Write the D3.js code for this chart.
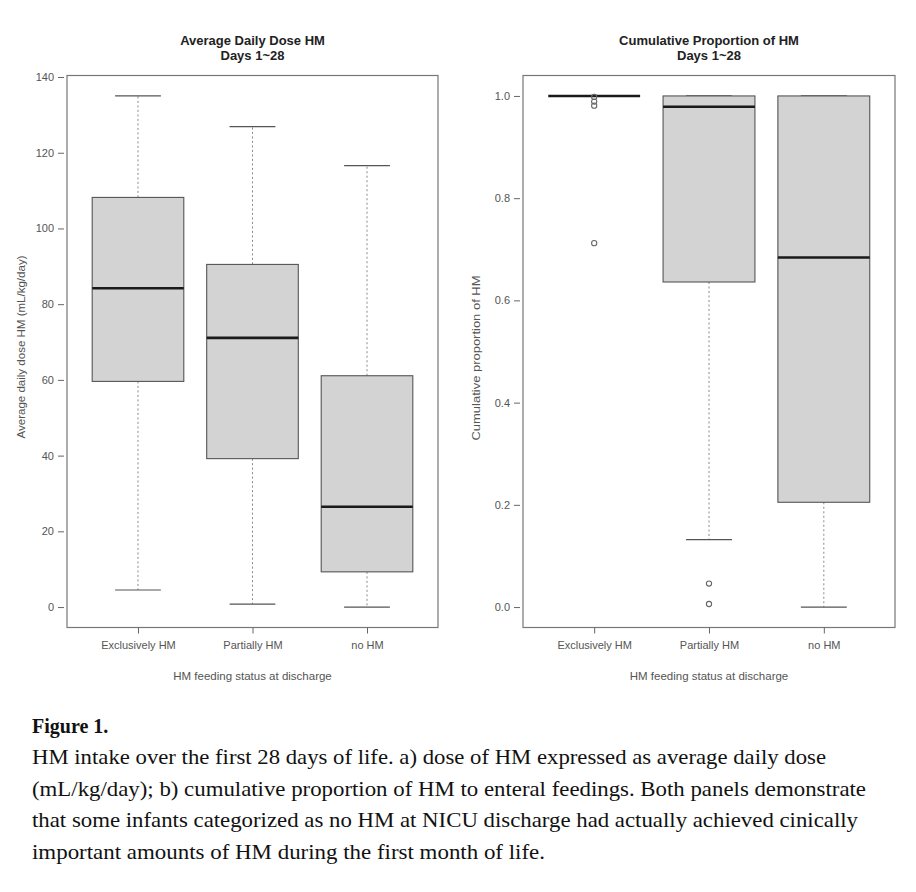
<!DOCTYPE html>
<html><head><meta charset="utf-8">
<script src="https://cdn.jsdelivr.net/npm/d3@7"></script>
<style>body{margin:0;background:#fff}</style>
</head><body><svg id="c" width="916" height="892"></svg>
<script>
const categories = ["Exclusively HM", "Partially HM", "no HM"];
// five-number summaries: [lower whisker, Q1, median, Q3, upper whisker]
const doseStats = [[4.5, 59.6, 84.2, 108.2, 135], [0.8, 39.2, 71.1, 90.5, 126.9], [0, 9.3, 26.5, 61.1, 116.6]];
const doseOutliers = [[], [], []];
const propStats = [[1, 1, 1, 1, 1], [0.132, 0.636, 0.979, 1, 1], [0, 0.205, 0.684, 1, 1]];
const propOutliers = [[0.998, 0.989, 0.981, 0.712], [0.046, 0.006], []];
const doseTicks = [0, 20, 40, 60, 80, 100, 120, 140];
const propTicks = [0, 0.2, 0.4, 0.6, 0.8, 1.0];
const captionTitle = "Figure 1.";
const captionLines = [
  "HM intake over the first 28 days of life. a) dose of HM expressed as average daily dose",
  "(mL/kg/day); b) cumulative proportion of HM to enteral feedings. Both panels demonstrate",
  "that some infants categorized as no HM at NICU discharge had actually achieved cinically",
  "important amounts of HM during the first month of life."
];

const svg = d3.select("#c");
const SANS = "Liberation Sans, Arial, Helvetica, sans-serif";

function panel(o) {
  const g = svg.append("g");
  const x = d3.scaleLinear().domain([0.38, 3.62]).range([o.x0, o.x1]);
  const y = d3.scaleLinear().domain(o.domain).range([o.y1, o.y0]);
  const unit = x(2) - x(1);
  const bw = 0.8 * unit, cw = 0.4 * unit;

  o.stats.forEach((s, i) => {
    const cx = x(i + 1);
    const [lo, q1, med, q3, hi] = s;
    g.append("line").attr("x1", cx).attr("x2", cx).attr("y1", y(q3)).attr("y2", y(hi))
      .attr("stroke", "#888").attr("stroke-dasharray", "2,2.5");
    g.append("line").attr("x1", cx).attr("x2", cx).attr("y1", y(q1)).attr("y2", y(lo))
      .attr("stroke", "#888").attr("stroke-dasharray", "2,2.5");
    [lo, hi].forEach(v => g.append("line").attr("x1", cx - cw / 2).attr("x2", cx + cw / 2)
      .attr("y1", y(v)).attr("y2", y(v)).attr("stroke", "#555").attr("stroke-width", 1.2));
    g.append("rect").attr("x", cx - bw / 2).attr("width", bw)
      .attr("y", y(q3)).attr("height", Math.max(0, y(q1) - y(q3)))
      .attr("fill", "#d3d3d3").attr("stroke", "#555").attr("stroke-width", 1.1);
    g.append("line").attr("x1", cx - bw / 2).attr("x2", cx + bw / 2)
      .attr("y1", y(med)).attr("y2", y(med)).attr("stroke", "#1a1a1a").attr("stroke-width", 2.6);
    o.outliers[i].forEach(v => g.append("circle").attr("cx", cx).attr("cy", y(v)).attr("r", 2.6)
      .attr("fill", "none").attr("stroke", "#666").attr("stroke-width", 1.1));
  });

  g.append("rect").attr("x", o.x0).attr("y", o.y0).attr("width", o.x1 - o.x0).attr("height", o.y1 - o.y0)
    .attr("fill", "none").attr("stroke", "#777").attr("stroke-width", 1.2);

  const ya = g.append("g").attr("transform", `translate(${o.x0 - 3},0)`)
    .call(d3.axisLeft(y).tickValues(o.ticks).tickFormat(o.fmt).tickSize(6).tickPadding(4));
  ya.select(".domain").remove();
  ya.selectAll("line").attr("stroke", "#666");
  ya.selectAll("text").attr("font-family", SANS).attr("font-size", 11).attr("fill", "#555");

  const xa = g.append("g").attr("transform", `translate(0,${o.y1})`)
    .call(d3.axisBottom(x).tickValues([1, 2, 3]).tickFormat(d => categories[d - 1]).tickSize(6).tickPadding(8));
  xa.select(".domain").remove();
  xa.selectAll("line").attr("stroke", "#666");
  xa.selectAll("text").attr("font-family", SANS).attr("font-size", 11).attr("fill", "#555");

  const mid = (o.x0 + o.x1) / 2;
  o.title.forEach((t, k) => g.append("text").attr("x", mid).attr("y", 44.5 + k * 15.5)
    .attr("text-anchor", "middle").attr("font-family", SANS).attr("font-weight", "bold")
    .attr("font-size", 13).attr("fill", "#222").text(t));
  g.append("text").attr("x", mid).attr("y", 680).attr("text-anchor", "middle")
    .attr("font-family", SANS).attr("font-size", 11.5).attr("fill", "#555")
    .text("HM feeding status at discharge");
  g.append("text").attr("transform", `translate(${o.ylabX},${o.ylabY}) rotate(-90)`)
    .attr("text-anchor", "middle").attr("font-family", SANS).attr("font-size", 11.5).attr("fill", "#555")
    .attr("textLength", o.ylabLen).attr("lengthAdjust", "spacingAndGlyphs")
    .text(o.ylab);
}

panel({x0: 67, x1: 438, y0: 75.5, y1: 627.5, domain: [-5.4, 140.4], ticks: doseTicks,
  fmt: d3.format("d"), stats: doseStats, outliers: doseOutliers,
  title: ["Average Daily Dose HM", "Days 1~28"], ylab: "Average daily dose HM (mL/kg/day)",
  ylabX: 25, ylabY: 347, ylabLen: 183});
panel({x0: 523, x1: 895, y0: 75.5, y1: 627.5, domain: [-0.04, 1.04], ticks: propTicks,
  fmt: d3.format(".1f"), stats: propStats, outliers: propOutliers,
  title: ["Cumulative Proportion of HM", "Days 1~28"], ylab: "Cumulative proportion of HM",
  ylabX: 480, ylabY: 358, ylabLen: 165});

const SERIF = "Liberation Serif, Times New Roman, serif";
svg.append("text").attr("x", 32).attr("y", 733).attr("font-family", SERIF).attr("font-weight", "bold")
  .attr("font-size", 20).attr("fill", "#111").text(captionTitle);
const capWidths = [794, 834, 826, 513];
captionLines.forEach((t, i) => {
  svg.append("text").attr("x", 32).attr("y", 764 + i * 31.5).attr("font-family", SERIF)
    .attr("font-size", 21).attr("fill", "#111")
    .attr("textLength", capWidths[i]).attr("lengthAdjust", "spacingAndGlyphs").text(t);
});
</script></body></html>
